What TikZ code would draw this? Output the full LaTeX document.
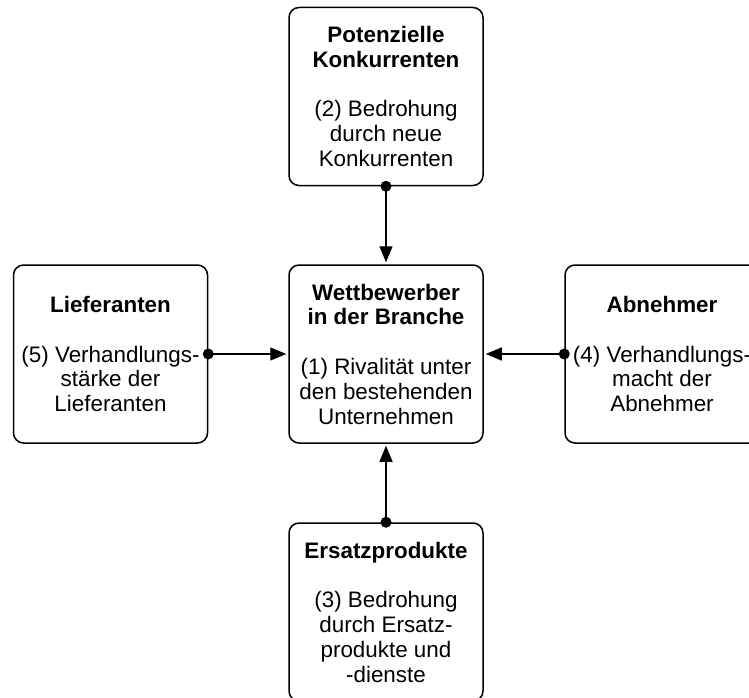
\documentclass[tikz,border=0pt]{standalone}
\usepackage{fontspec}
\setmainfont{Liberation Sans}
\usetikzlibrary{arrows.meta}
\begin{document}
\begin{tikzpicture}[x=1pt,y=-1pt,
  force/.style={draw,line width=1.5pt,rounded corners=10pt,minimum width=194pt,
    minimum height=178pt,align=center,inner sep=0pt,
    font=\fontsize{22.4}{24.8}\selectfont},
  push/.style={line width=1.3pt,-{Triangle[length=16pt,width=13pt]},shorten >=2pt}]
  \useasboundingbox (0,0) rectangle (749,698);
  \clip (0,0) rectangle (749,698);
  \node[force] (entrants) at (386,96.5) {\textbf{Potenzielle}\\\textbf{Konkurrenten}\\[24.8pt](2) Bedrohung\\durch neue\\Konkurrenten};
  \node[force] (rivals) at (386,354) {\textbf{Wettbewerber}\\\textbf{in der Branche}\\[24.8pt](1) Rivalität unter\\den bestehenden\\Unternehmen};
  \node[force] (suppliers) at (110.5,354) {\textbf{Lieferanten}\\[24.8pt](5) Verhandlungs-\\stärke der\\Lieferanten};
  \node[force] (buyers) at (662,354) {\textbf{Abnehmer}\\[24.8pt](4) Verhandlungs-\\macht der\\Abnehmer};
  \node[force] (substitutes) at (386,612) {\textbf{Ersatzprodukte}\\[24.8pt](3) Bedrohung\\durch Ersatz-\\produkte und\\-dienste};
  \draw[push] (entrants.south) -- (rivals.north);
  \draw[push] (suppliers.east) -- (rivals.west);
  \draw[push] (buyers.west) -- (rivals.east);
  \draw[push] (substitutes.north) -- (rivals.south);
  \foreach \src/\pt in {entrants/south,suppliers/east,buyers/west,substitutes/north}
    \fill (\src.\pt) circle (5.5pt);
\end{tikzpicture}
\end{document}
